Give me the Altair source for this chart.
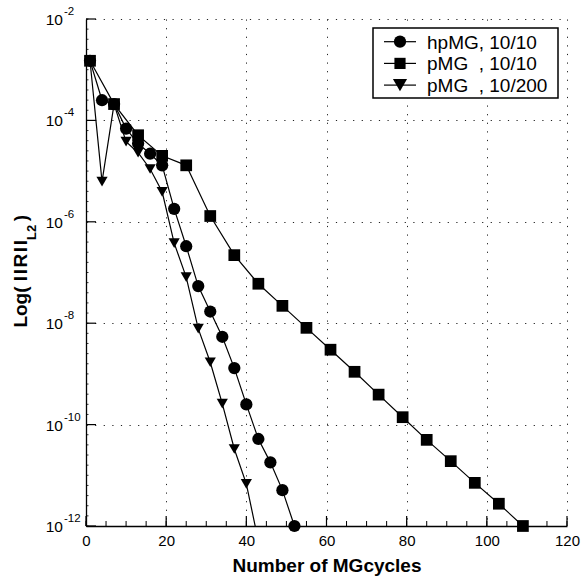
import altair as alt
import pandas as pd

# ---------------- data ----------------
hp_x = [1, 4, 7, 10, 13, 16, 19, 22, 25, 28, 31, 34, 37, 40, 43, 46, 49, 52]
hp_r = [1.5e-3, 2.5e-4, 2.1e-4, 6.9e-5, 3.5e-5, 2.2e-5, 1.3e-5, 1.8e-6, 3.3e-7,
        5.4e-8, 1.7e-8, 5.4e-9, 1.3e-9, 2.5e-10, 5.2e-11, 1.8e-11, 5.1e-12, 1.0e-12]

p10_x = [1, 7, 13, 19, 25, 31, 37, 43, 49, 55, 61, 67, 73, 79, 85, 91, 97, 103, 109]
p10_r = [1.5e-3, 2.1e-4, 5.1e-5, 2.0e-5, 1.3e-5, 1.3e-6, 2.2e-7, 6.0e-8, 2.2e-8,
         8.1e-9, 3.0e-9, 1.1e-9, 3.9e-10, 1.4e-10, 5.0e-11, 1.9e-11, 7.1e-12,
         2.75e-12, 1.0e-12]

p200_x = [1, 4, 7, 10, 13, 16, 19, 22, 25, 28, 31, 34, 37, 40, 43]
p200_r = [1.5e-3, 6.2e-6, 2.1e-4, 3.8e-5, 2.3e-5, 1.1e-5, 3.9e-6, 3.8e-7, 8.1e-8,
          7.8e-9, 1.7e-9, 2.6e-10, 3.3e-11, 6.8e-12, 5.0e-13]

series_names = ["hpMG, 10/10", "pMG\u00a0\u00a0, 10/10", "pMG\u00a0\u00a0, 10/200"]
series_shapes = ["circle", "square", "triangle-down"]
series_sizes = [150, 125, 200]

x_major = [0, 20, 40, 60, 80, 100, 120]
x_minor = list(range(0, 121, 5))
y_exponents = [-2, -4, -6, -8, -10, -12]
y_major = [1e-2, 1e-4, 1e-6, 1e-8, 1e-10, 1e-12]
y_minor = [10 ** (-12 + 0.2 * k) for k in range(51)]

# ---------------- layout ----------------
W, H = 481, 507
FONT = "Liberation Sans"

rows = []
for name, xs, rs in zip(series_names, [hp_x, p10_x, p200_x], [hp_r, p10_r, p200_r]):
    for a, b in zip(xs, rs):
        rows.append({"series": name, "x": a, "r": b})
df = pd.DataFrame(rows)

xscale = alt.Scale(domain=[0, 120], nice=False, zero=False)
yscale = alt.Scale(type="log", domain=[1e-12, 1e-2], nice=False)

grid_kw = dict(grid=True, gridDash=[1.2, 7.4], gridColor="#222222", gridWidth=1,
               gridOpacity=1, domainColor="black", domainWidth=1.3, ticks=False)

xaxis = alt.Axis(values=x_major, format="d", labelFont=FONT, labelFontSize=15,
                 labelColor="black", labelPadding=7, labelFlush=False,
                 title="Number of MGcycles", titleFont=FONT, titleFontSize=19,
                 titleFontWeight="bold", titleColor="black", titlePadding=8,
                 **grid_kw)
yaxis = alt.Axis(values=y_major, labels=False, title=None, **grid_kw)


def X(field):
    return alt.X(f"{field}:Q", scale=xscale, axis=xaxis)


def Y(field):
    return alt.Y(f"{field}:Q", scale=yscale, axis=yaxis)


lines = alt.Chart(df).mark_line(color="black", strokeWidth=1.2, clip=True).encode(
    x=X("x"), y=Y("r"), detail="series:N", order="x:Q")

points = alt.Chart(df).transform_filter("datum.r >= 0.99e-12").mark_point(
    filled=True, color="black", opacity=1).encode(
    x=X("x"), y=Y("r"),
    shape=alt.Shape("series:N", scale=alt.Scale(domain=series_names, range=series_shapes), legend=None),
    size=alt.Size("series:O", scale=alt.Scale(domain=series_names, range=series_sizes), legend=None))

# inward ticks
xt_minor = alt.Chart(pd.DataFrame({"v": x_minor})).mark_rule(color="black", strokeWidth=1).encode(
    x=X("v"), y=alt.value(H), y2=alt.value(H - 5))
xt_major = alt.Chart(pd.DataFrame({"v": x_major})).mark_rule(color="black", strokeWidth=1.2).encode(
    x=X("v"), y=alt.value(H), y2=alt.value(H - 10))
yt_major = alt.Chart(pd.DataFrame({"v": y_major})).mark_rule(color="black", strokeWidth=1.2).encode(
    y=Y("v"), x=alt.value(0), x2=alt.value(10))
yt_minor = alt.Chart(pd.DataFrame({"v": y_minor})).mark_rule(color="black", strokeWidth=0.8).encode(
    y=Y("v"), x=alt.value(0), x2=alt.value(2.5))

# y tick labels 10^n
ylab = pd.DataFrame({"v": y_major, "base": ["10"] * len(y_major),
                     "exp": [str(e) for e in y_exponents]})
ylab_base = alt.Chart(ylab).mark_text(align="right", baseline="middle", font=FONT,
                                      fontSize=15.5, color="black", dy=1).encode(
    y=Y("v"), x=alt.value(-23), text="base:N")
ylab_exp = alt.Chart(ylab).mark_text(align="left", baseline="middle", font=FONT,
                                     fontSize=11.5, color="black", dy=-7).encode(
    y=Y("v"), x=alt.value(-22), text="exp:N")

# y axis title with subscript
one = pd.DataFrame({"t": ["Log( I\u200aI\u200aR\u200aI\u200aI"], "s": ["L2"], "c": ["\u00a0)"]})
yt1 = alt.Chart(one).mark_text(angle=270, align="right", baseline="alphabetic", font=FONT,
                               fontSize=19, fontWeight="bold", color="black").encode(
    x=alt.value(-59), y=alt.value(221), text="t:N")
yt2 = alt.Chart(one).mark_text(angle=270, align="left", baseline="alphabetic", font=FONT,
                               fontSize=13, fontWeight="bold", color="black").encode(
    x=alt.value(-50), y=alt.value(221), text="s:N")
yt3 = alt.Chart(one).mark_text(angle=270, align="right", baseline="alphabetic", font=FONT,
                               fontSize=19, fontWeight="bold", color="black").encode(
    x=alt.value(-59), y=alt.value(196), text="c:N")

# legend
legend_layers = [
    alt.Chart(pd.DataFrame({"a": [0]})).mark_rect(fill="white", stroke="black", strokeWidth=1.5).encode(
        x=alt.value(287), x2=alt.value(472), y=alt.value(9), y2=alt.value(79))
]
for i, (name, shp, sz) in enumerate(zip(series_names, series_shapes, series_sizes)):
    yy = 22.7 + i * 21.7
    d = pd.DataFrame({"label": [name]})
    legend_layers.append(alt.Chart(d).mark_rule(color="black", strokeWidth=1.2).encode(
        x=alt.value(298), x2=alt.value(330), y=alt.value(yy)))
    legend_layers.append(alt.Chart(d).mark_point(shape=shp, filled=True, size=sz, color="black",
                                                 opacity=1).encode(
        x=alt.value(314), y=alt.value(yy)))
    legend_layers.append(alt.Chart(d).mark_text(align="left", baseline="middle", font=FONT,
                                                fontSize=19, color="black").encode(
        x=alt.value(341), y=alt.value(yy + 1), text="label:N"))

chart = alt.layer(
    lines, points, xt_minor, xt_major, yt_major, yt_minor,
    ylab_base, ylab_exp, yt1, yt2, yt3, *legend_layers
).properties(
    width=W, height=H,
    autosize=alt.AutoSizeParams(type="none"),
    padding={"left": 86, "top": 19, "right": 16, "bottom": 50},
    background="white",
).configure_view(stroke=None)

chart.save("out.html", embed_options={"renderer": "svg", "actions": False})
